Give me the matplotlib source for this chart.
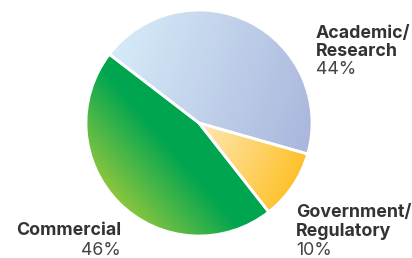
import numpy as np
import matplotlib
matplotlib.use("Agg")
import matplotlib.pyplot as plt
from matplotlib.colors import to_rgb

categories = [["Academic/", "Research"], ["Government/", "Regulatory"], ["Commercial"]]
values = [44, 10, 46]
pct_labels = ["44%", "10%", "46%"]

W, H = 412, 258
fig = plt.figure(figsize=(W / 100, H / 100), dpi=100)
ax = fig.add_axes([0, 0, 1, 1])

cx, cy, r = 199, H - 123, 113
wedges, _ = ax.pie(values, startangle=142.5, counterclock=False, center=(cx, cy),
                   radius=r, wedgeprops=dict(edgecolor="white", linewidth=2))
ax.set_xlim(0, W)
ax.set_ylim(0, H)
ax.set_aspect("equal")
ax.axis("off")

grads = [
    ("#d6ebf8", "#aab6dc", (1.0, -0.35)),
    ("#fee9b8", "#fdc12a", (1.0, -0.45)),
    ("#8cc63f", "#00a550", (0.75, 0.65)),
]
n = 200
xs = np.linspace(-1, 1, n)
X, Y = np.meshgrid(xs, xs[::-1])
for w, (c0, c1, d) in zip(wedges, grads):
    w.set_facecolor("none")
    dv = np.array(d) / np.hypot(*d)
    t = X * dv[0] + Y * dv[1]
    theta1, theta2 = np.deg2rad(w.theta1), np.deg2rad(w.theta2)
    angs = np.linspace(theta1, theta2, 100)
    pts = np.vstack([np.c_[np.cos(angs), np.sin(angs)], [[0, 0]]])
    proj = pts @ dv
    t = np.clip((t - proj.min()) / (proj.max() - proj.min()), 0, 1)
    if c0 == "#8cc63f":
        t = np.clip(t * 1.5, 0, 1)
    a, b = np.array(to_rgb(c0)), np.array(to_rgb(c1))
    img = a[None, None, :] * (1 - t[..., None]) + b[None, None, :] * t[..., None]
    im = ax.imshow(img, extent=(cx - r, cx + r, cy - r, cy + r), origin="upper",
                   interpolation="bilinear", zorder=1)
    im.set_clip_path(w)
    w.set_zorder(2)

fam = ["Inter", "DejaVu Sans"]
tc = "#333333"
pc = "#444444"
fs = 12.8


def lab(x, ys, lines, pct, ha):
    for yy, s in zip(ys[:-1], lines):
        ax.text(x, H - yy, s, ha=ha, va="baseline", fontsize=fs,
                fontweight="bold", color=tc, family=fam)
    ax.text(x, H - ys[-1], pct, ha=ha, va="baseline", fontsize=fs,
            color=pc, family=fam)


lab(316, [38, 56.5, 74], categories[0], pct_labels[0], "left")
lab(296, [217, 235.5, 255], categories[1], pct_labels[1], "left")
lab(121, [235, 255], categories[2], pct_labels[2], "right")

fig.savefig("out.png", dpi=100)
